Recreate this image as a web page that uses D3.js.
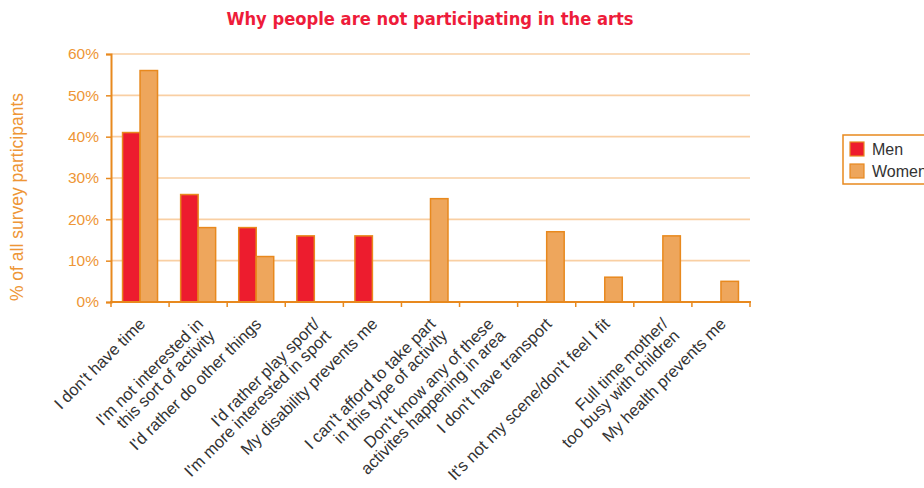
<!DOCTYPE html>
<html>
<head>
<meta charset="utf-8">
<script src="https://cdn.jsdelivr.net/npm/d3@7"></script>
<style>
  html, body { margin: 0; padding: 0; background: #fff; }
  svg { display: block; }
</style>
</head>
<body>
<svg id="chart" width="924" height="488"></svg>
<script>
// Reasons for not taking part in the arts, share of all respondents (%)
const categories = [
  ["I don't have time"],
  ["I'm not interested in", "this sort of activity"],
  ["I'd rather do other things"],
  ["I'd rather play sport/", "I'm more interested in sport"],
  ["My disability prevents me"],
  ["I can't afford to take part", "in this type of activity"],
  ["Don't know any of these", "activites happening in area"],
  ["I don't have transport"],
  ["It's not my scene/don't feel I fit"],
  ["Full time mother/", "too busy with children"],
  ["My health prevents me"]
];
const seriesNames = ["Men", "Women"];
const menValues   = [41, 26, 18, 16, 16, 0, 0, 0, 0, 0, 0];
const womenValues = [56, 18, 11, 0, 0, 25, 0, 17, 6, 16, 5];
const yTicks = [0, 10, 20, 30, 40, 50, 60];

const colors = { Men: "#ED1C2E", Women: "#EEA65C" };
const orange = "#E8891E";
const labelOrange = "#EE9636";

const svg = d3.select("#chart");
const plotLeft = 111, plotRight = 750, plotTop = 54, plotBottom = 302;

const keys = categories.map((c, i) => i);
const x = d3.scaleBand().domain(keys).range([plotLeft, plotRight]).paddingInner(0).paddingOuter(0);
const xs = d3.scaleBand().domain(seriesNames).range([0, x.bandwidth()]).paddingInner(0).paddingOuter(0.66);
const y = d3.scaleLinear().domain([0, 60]).range([plotBottom, plotTop]);

// Title
svg.append("text")
  .attr("x", 430).attr("y", 25)
  .attr("text-anchor", "middle")
  .attr("font-family", "'Liberation Sans Narrow', 'DejaVu Sans Condensed', sans-serif")
  .attr("font-weight", "bold")
  .attr("font-size", 18.2)
  .attr("fill", "#EE1C3A")
  .text("Why people are not participating in the arts");

// Horizontal gridlines
svg.append("g")
  .selectAll("line")
  .data(yTicks.filter(t => t > 0))
  .join("line")
  .attr("x1", plotLeft).attr("x2", plotRight)
  .attr("y1", d => y(d)).attr("y2", d => y(d))
  .attr("stroke", "#F9CFA3")
  .attr("stroke-width", 1.6);

// Bars
const rows = keys.map(i => ({ i, Men: menValues[i], Women: womenValues[i] }));
const groups = svg.append("g").selectAll("g")
  .data(rows)
  .join("g")
  .attr("transform", d => `translate(${x(d.i)},0)`);

groups.selectAll("rect")
  .data(d => seriesNames.map(k => ({ k, v: d[k] })).filter(e => e.v > 0))
  .join("rect")
  .attr("x", d => xs(d.k))
  .attr("y", d => y(d.v))
  .attr("width", xs.bandwidth())
  .attr("height", d => y(0) - y(d.v))
  .attr("fill", d => colors[d.k])
  .attr("stroke", orange)
  .attr("stroke-width", 1.5);

// Y axis
const yAxis = d3.axisLeft(y)
  .tickValues(yTicks)
  .tickSize(5)
  .tickPadding(7)
  .tickFormat(d => d + "%");
const gy = svg.append("g")
  .attr("transform", `translate(${plotLeft},0)`)
  .call(yAxis);
gy.select(".domain").attr("stroke", orange).attr("stroke-width", 2);
gy.selectAll(".tick line").attr("stroke", orange).attr("stroke-width", 1.5);
gy.selectAll(".tick text")
  .attr("fill", labelOrange)
  .attr("font-family", "'Liberation Sans', Arial, sans-serif")
  .attr("font-size", 15.5);

// X axis (ticks at band boundaries)
const gx = svg.append("g").attr("transform", `translate(0,${plotBottom})`);
gx.append("line")
  .attr("x1", plotLeft - 1).attr("x2", plotRight + 1)
  .attr("y1", 0).attr("y2", 0)
  .attr("stroke", orange).attr("stroke-width", 2);
gx.selectAll("line.tk")
  .data(keys.concat([keys.length]))
  .join("line")
  .attr("class", "tk")
  .attr("x1", d => d < keys.length ? x(d) : plotRight)
  .attr("x2", d => d < keys.length ? x(d) : plotRight)
  .attr("y1", 0).attr("y2", 5)
  .attr("stroke", orange).attr("stroke-width", 1.5);

// Category labels, rotated
const lab = gx.selectAll("text.cat")
  .data(categories)
  .join("text")
  .attr("class", "cat")
  .attr("transform", (d, i) => `translate(${x(i) + x.bandwidth() / 2 + 2},${19}) rotate(-45)`)
  .attr("text-anchor", "end")
  .attr("font-family", "'Liberation Sans', Arial, sans-serif")
  .attr("font-size", 16.5)
  .attr("fill", "#333");
lab.selectAll("tspan")
  .data(d => d)
  .join("tspan")
  .attr("x", 0)
  .attr("y", (d, j) => j * 16.5)
  .attr("dy", "0.35em")
  .text(d => d);

// Y axis title
svg.append("text")
  .attr("transform", `translate(23,197) rotate(-90)`)
  .attr("text-anchor", "middle")
  .attr("font-family", "'Liberation Sans', Arial, sans-serif")
  .attr("font-size", 17.5)
  .attr("fill", labelOrange)
  .text("% of all survey participants");

// Legend
const legend = svg.append("g");
legend.append("rect")
  .attr("x", 843).attr("y", 135)
  .attr("width", 100).attr("height", 49)
  .attr("fill", "#fff")
  .attr("stroke", orange).attr("stroke-width", 1.5);
const li = legend.selectAll("g.item")
  .data(seriesNames)
  .join("g")
  .attr("class", "item")
  .attr("transform", (d, i) => `translate(850,${142 + i * 22})`);
li.append("rect")
  .attr("width", 14).attr("height", 14)
  .attr("fill", d => colors[d])
  .attr("stroke", orange).attr("stroke-width", 1.2);
li.append("text")
  .attr("x", 22).attr("y", 13)
  .attr("font-family", "'Liberation Sans', Arial, sans-serif")
  .attr("font-size", 16)
  .attr("fill", "#333")
  .text(d => d);
</script>
</body>
</html>
